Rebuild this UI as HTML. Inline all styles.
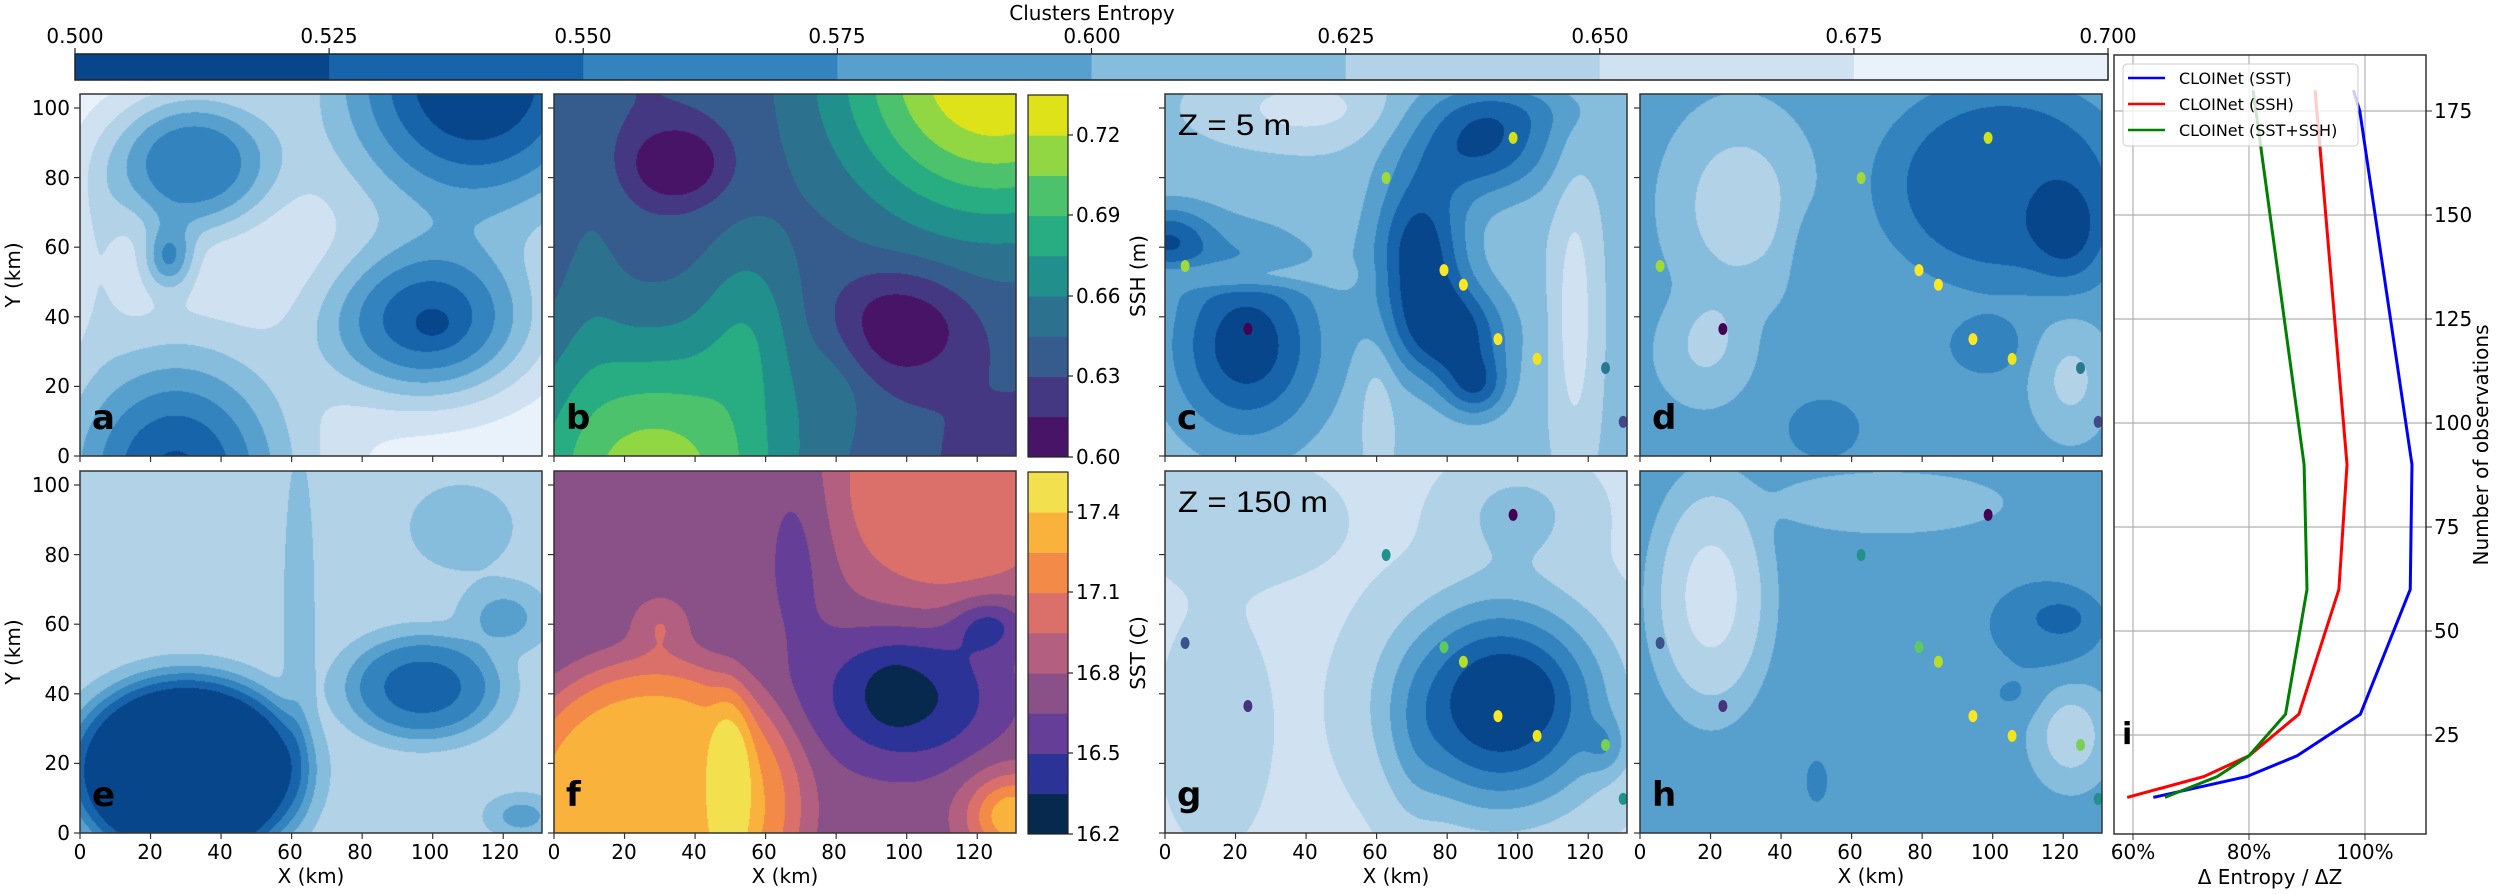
<!DOCTYPE html>
<html><head><meta charset="utf-8">
<style>
html,body{margin:0;padding:0;background:#fff;}
#wrap{position:relative;width:2500px;height:894px;overflow:hidden;background:#fff;}
canvas{position:absolute;}
svg{position:absolute;left:0;top:0;}
text{font-family:"DejaVu Sans","Liberation Sans",sans-serif;font-size:20px;fill:#000;}
.b{font-weight:bold;font-size:34px;}
.z{font-family:"Liberation Sans",sans-serif;font-size:30px;}
.lg{font-size:16px;}
</style></head><body>
<div id="wrap">
<canvas id="pa" width="462" height="362" style="left:80px;top:94px"></canvas>
<canvas id="pb" width="462" height="362" style="left:554px;top:94px"></canvas>
<canvas id="pc" width="462" height="362" style="left:1165px;top:94px"></canvas>
<canvas id="pd" width="462" height="362" style="left:1640px;top:94px"></canvas>
<canvas id="pe" width="462" height="362" style="left:80px;top:471px"></canvas>
<canvas id="pf" width="462" height="362" style="left:554px;top:471px"></canvas>
<canvas id="pg" width="462" height="362" style="left:1165px;top:471px"></canvas>
<canvas id="ph" width="462" height="362" style="left:1640px;top:471px"></canvas>
<svg id="s" width="2500" height="894" xmlns="http://www.w3.org/2000/svg">
<g id="dyn"></g>
<text x="1092" y="20" text-anchor="middle">Clusters Entropy</text>
<text x="75" y="43" text-anchor="middle">0.500</text>
<text x="329" y="43" text-anchor="middle">0.525</text>
<text x="583" y="43" text-anchor="middle">0.550</text>
<text x="837" y="43" text-anchor="middle">0.575</text>
<text x="1092" y="43" text-anchor="middle">0.600</text>
<text x="1346" y="43" text-anchor="middle">0.625</text>
<text x="1600" y="43" text-anchor="middle">0.650</text>
<text x="1854" y="43" text-anchor="middle">0.675</text>
<text x="2108" y="43" text-anchor="middle">0.700</text>
<text x="70" y="463" text-anchor="end">0</text>
<text x="70" y="393" text-anchor="end">20</text>
<text x="70" y="324" text-anchor="end">40</text>
<text x="70" y="254" text-anchor="end">60</text>
<text x="70" y="185" text-anchor="end">80</text>
<text x="70" y="115" text-anchor="end">100</text>
<text x="70" y="840" text-anchor="end">0</text>
<text x="70" y="770" text-anchor="end">20</text>
<text x="70" y="701" text-anchor="end">40</text>
<text x="70" y="631" text-anchor="end">60</text>
<text x="70" y="562" text-anchor="end">80</text>
<text x="70" y="492" text-anchor="end">100</text>
<text transform="translate(20,275) rotate(-90)" text-anchor="middle">Y (km)</text>
<text transform="translate(20,652) rotate(-90)" text-anchor="middle">Y (km)</text>
<g text-anchor="middle">
<text x="80" y="859">0</text><text x="150" y="859">20</text><text x="220" y="859">40</text><text x="290" y="859">60</text><text x="360" y="859">80</text><text x="430" y="859">100</text><text x="500" y="859">120</text>
<text x="554" y="859">0</text><text x="624" y="859">20</text><text x="694" y="859">40</text><text x="764" y="859">60</text><text x="834" y="859">80</text><text x="904" y="859">100</text><text x="974" y="859">120</text>
<text x="1165" y="859">0</text><text x="1235" y="859">20</text><text x="1305" y="859">40</text><text x="1375" y="859">60</text><text x="1445" y="859">80</text><text x="1515" y="859">100</text><text x="1585" y="859">120</text>
<text x="1640" y="859">0</text><text x="1710" y="859">20</text><text x="1780" y="859">40</text><text x="1850" y="859">60</text><text x="1920" y="859">80</text><text x="1990" y="859">100</text><text x="2060" y="859">120</text>
<text x="311" y="883">X (km)</text><text x="785" y="883">X (km)</text><text x="1396" y="883">X (km)</text><text x="1871" y="883">X (km)</text>
</g>
<text x="1076" y="464">0.60</text>
<text x="1076" y="383">0.63</text>
<text x="1076" y="303">0.66</text>
<text x="1076" y="222">0.69</text>
<text x="1076" y="142">0.72</text>
<text transform="translate(1145,276) rotate(-90)" text-anchor="middle">SSH (m)</text>
<text x="1076" y="841">16.2</text>
<text x="1076" y="760">16.5</text>
<text x="1076" y="680">16.8</text>
<text x="1076" y="599">17.1</text>
<text x="1076" y="519">17.4</text>
<text transform="translate(1145,653) rotate(-90)" text-anchor="middle">SST (C)</text>
<text class="b" x="92" y="429">a</text>
<text class="b" x="566" y="429">b</text>
<text class="b" x="1177" y="429">c</text>
<text class="b" x="1652" y="429">d</text>
<text class="b" x="92" y="806">e</text>
<text class="b" x="566" y="806">f</text>
<text class="b" x="1177" y="806">g</text>
<text class="b" x="1652" y="806">h</text>
<text class="z" x="1178" y="135" textLength="113" lengthAdjust="spacingAndGlyphs">Z = 5 m</text>
<text class="z" x="1178" y="512" textLength="150" lengthAdjust="spacingAndGlyphs">Z = 150 m</text>
<g id="pi"></g>
<g text-anchor="middle">
<text x="2133" y="859">60%</text><text x="2249" y="859">80%</text><text x="2365" y="859">100%</text>
<text x="2270" y="884">Δ Entropy / ΔZ</text>
</g>
<text x="2434" y="742">25</text>
<text x="2434" y="638">50</text>
<text x="2434" y="534">75</text>
<text x="2434" y="430">100</text>
<text x="2434" y="326">125</text>
<text x="2434" y="222">150</text>
<text x="2434" y="118">175</text>
<text transform="translate(2488,445) rotate(-90)" text-anchor="middle">Number of observations</text>
<text class="b" x="2122" y="744" style="font-size:30px">i</text>
<g id="leg">
<rect x="2123" y="64" width="235" height="82" rx="4" fill="#fff" fill-opacity="0.8" stroke="#ccc" stroke-width="1"/>
<line x1="2128" y1="78" x2="2165" y2="78" stroke="#0000ff" stroke-width="2.5"/>
<line x1="2128" y1="104" x2="2165" y2="104" stroke="#ff0000" stroke-width="2.5"/>
<line x1="2128" y1="130" x2="2165" y2="130" stroke="#008000" stroke-width="2.5"/>
<text class="lg" x="2179" y="84">CLOINet (SST)</text>
<text class="lg" x="2179" y="110">CLOINet (SSH)</text>
<text class="lg" x="2179" y="136">CLOINet (SST+SSH)</text>
</g>
</svg>
</div>
<script>
var BL=['#08468b','#1764ab','#3383be','#57a0ce','#86bcdc','#b2d2e7','#d0e1f2','#e9f2fa'];
var VI=['#481467','#453882','#365c8d','#2c728e','#21908d','#27ad81','#4cc26c','#90d743','#dde318'];
var TH=['#07294d','#2c3396','#643e97','#8a5088','#b35f7f','#da7069','#f38a47','#f9b23c','#f2e04e'];
function hex(c){return [parseInt(c.substr(1,2),16),parseInt(c.substr(3,2),16),parseInt(c.substr(5,2),16)];}
function draw(id,pal,base,G){
 var cv=document.getElementById(id),ctx=cv.getContext('2d'),W=cv.width,H=cv.height;
 var im=ctx.createImageData(W,H),d=im.data,P=pal.map(hex),n=pal.length;
 for(var py=0;py<H;py++){var y=(H-py)/H*104;
  for(var px=0;px<W;px++){var x=px/W*131,f=base;
   for(var k=0;k<G.length;k++){var g=G[k];var dx=(x-g[0])/g[3],dy=(y-g[1])/g[4];var r=dx*dx+dy*dy;if(g[5])r=Math.pow(r,g[5]);f+=g[2]*Math.exp(-r);}
   var b=Math.floor(f);if(b<0)b=0;if(b>n-1)b=n-1;var c=P[b],o=(py*W+px)*4;d[o]=c[0];d[o+1]=c[1];d[o+2]=c[2];d[o+3]=255;}}
 ctx.putImageData(im,0,0);
}
draw('pa',BL,7.6,[[112,108,-7.8,42,42],[31,84,-5.4,24,20,1.3],[25,57,-3.8,7,9],[98,38,-5.8,30,22,1.2],[100,38,-1,5,4],[27,-5,-6.8,34,38],[5,60,-1.2,8,25]]);
draw('pb',VI,1.9,[[125,110,7.2,46,44],[28,-8,5.8,40,44],[35,84,-1.8,15,12,1.5],[98,38,-1.9,20,16,1.4],[10,60,0.8,10,40],[55,40,1.8,14,28],[80,20,0.8,10,20]]);
draw('pe',BL,5.3,[[30,18,-6.3,34,28,3],[97,42,-3.5,22,15,2],[120,62,-2,10,8],[62,60,-1,4,45],[108,88,-1.3,12,10],[125,5,-2,8,5]]);
draw('pf',TH,3.4,[[28,8,4.3,42,42,3],[50,15,1.6,6,26,1.5],[112,100,2.6,38,38,1.5],[100,40,-2.6,25,20,1.3],[96,40,-1,6,7],[123,60,-2.2,10,8],[70,85,-1,10,30],[130,5,4.5,13,12],[30,60,1.5,8,8]]);
draw('pc',BL,4.8,[[90,90,-3.8,20,15],[72,58,-4.5,13,24],[82,35,-4,15,14],[88,20,-3,9,9],[23,32,-4.5,22,27],[0,62,-3.5,13,10],[20,52,1.8,25,4],[40,100,1.6,25,10],[116,40,1.8,6,40],[60,15,1,5,20],[100,100,-1,25,8]]);
draw('pd',BL,3.5,[[103,78,-2.3,34,28,2],[122,62,-1.6,10,14],[28,72,1.8,22,30,1.5],[18,30,1.5,14,16,1.5],[122,22,1.6,12,18,1.5],[48,58,-0.9,6,15],[98,32,-1.4,10,8],[52,8,-1,12,10]]);
draw('pg',BL,6.2,[[95,37,-6,30,30,1.2],[98,40,-1.5,10,8],[100,92,-1.6,18,14],[14,30,-0.8,14,30],[20,90,-1,25,15],[125,25,-1.5,6,8],[70,20,-0.6,8,25]]);
draw('ph',BL,3.7,[[20,68,2.4,16,32,2],[115,60,-1.4,18,14,1.5],[120,62,-0.8,8,5],[50,15,-0.8,8,16],[122,28,2.3,9,12],[105,40,-0.8,8,6],[70,95,1,30,8]]);

var NS='http://www.w3.org/2000/svg',dyn=document.getElementById('dyn');
function el(t,a,p){var e=document.createElementNS(NS,t);for(var k in a)e.setAttribute(k,a[k]);(p||dyn).appendChild(e);return e;}
for(var i=0;i<8;i++)el('rect',{x:75+i*254.125,y:54,width:255,height:26,fill:BL[i]});
el('rect',{x:75,y:54,width:2033,height:26,fill:'none',stroke:'#222','stroke-width':1.5});
for(var i=0;i<9;i++)el('line',{x1:75+i*254.125,x2:75+i*254.125,y1:48,y2:54,stroke:'#222','stroke-width':1.2});
for(var i=0;i<9;i++){el('rect',{x:1028,y:457-(i+1)*40.2,width:40,height:40.5,fill:VI[i]});el('rect',{x:1028,y:834-(i+1)*40.2,width:40,height:40.5,fill:TH[i]});}
el('rect',{x:1028,y:95,width:40,height:362,fill:'none',stroke:'#222','stroke-width':1.2});
el('rect',{x:1028,y:472,width:40,height:362,fill:'none',stroke:'#222','stroke-width':1.2});
[[457,376,296,215,135],[834,753,673,592,512]].forEach(function(a){a.forEach(function(y){el('line',{x1:1068,x2:1073,y1:y,y2:y,stroke:'#222','stroke-width':1.2});});});
var DP=[[98.7,91.4],[62.7,79.9],[5.7,54.6],[79.1,53.4],[84.6,49.2],[23.5,36.5],[94.4,33.6],[105.5,27.9],[124.9,25.3],[129.9,9.8]];
var C1=['#d0e11c','#a0da39','#a0da39','#fde725','#fde725','#440154','#fde725','#f0e51c','#2a788e','#3e4a89'];
var C2=['#440154','#21918c','#3b528b','#5ec962','#b5de2b','#46327e','#fde725','#f0e51c','#7ad151','#21918c'];
[[1165,94,C1],[1640,94,C1],[1165,471,C2],[1640,471,C2]].forEach(function(p){
 DP.forEach(function(d,k){el('ellipse',{cx:p[0]+d[0]*3.527,cy:p[1]+362-d[1]*3.48,rx:4.5,ry:6,fill:p[2][k]});});});
[[80,94],[554,94],[1165,94],[1640,94],[80,471],[554,471],[1165,471],[1640,471]].forEach(function(p){
 el('rect',{x:p[0],y:p[1],width:462,height:362,fill:'none',stroke:'#333','stroke-width':1.5});
 for(var v=0;v<=100;v+=20){var y=p[1]+362-v*3.48;el('line',{x1:p[0]-6,x2:p[0],y1:y,y2:y,stroke:'#333','stroke-width':1.2});}
 for(var v=0;v<=120;v+=20){var x=p[0]+v*3.527;el('line',{x1:x,x2:x,y1:p[1]+362,y2:p[1]+368,stroke:'#333','stroke-width':1.2});}
});
var pi=document.getElementById('pi');
function X(p){return 2133+(p-60)*5.8;} function Y(v){return 839-v*4.16;}
[60,80,100].forEach(function(p){el('line',{x1:X(p),x2:X(p),y1:55,y2:834,stroke:'#b0b0b0','stroke-width':1.2},pi);el('line',{x1:X(p),x2:X(p),y1:834,y2:840,stroke:'#333'},pi);});
[25,50,75,100,125,150,175].forEach(function(v){el('line',{x1:2114,x2:2426,y1:Y(v),y2:Y(v),stroke:'#b0b0b0','stroke-width':1.2},pi);el('line',{x1:2426,x2:2432,y1:Y(v),y2:Y(v),stroke:'#333'},pi);});
function pl(pts,c){el('polyline',{points:pts.map(function(q){return X(q[0])+','+Y(q[1]);}).join(' '),fill:'none',stroke:c,'stroke-width':3},pi);}
pl([[63.5,10],[79.6,15],[88.3,20],[99.2,30],[107.8,60],[108.1,90],[99.1,175],[98,180]],'#0000ff');
pl([[59,10],[72.2,15],[80,20],[88.6,30],[95.5,60],[96.9,90],[91.4,180]],'#ff0000');
pl([[65.5,10],[74.5,15],[80,20],[86.3,30],[90,60],[89.5,90],[80.7,180]],'#008000');
el('rect',{x:2114,y:55,width:312,height:779,fill:'none',stroke:'#333','stroke-width':1.5},pi);
</script>
</body></html>
